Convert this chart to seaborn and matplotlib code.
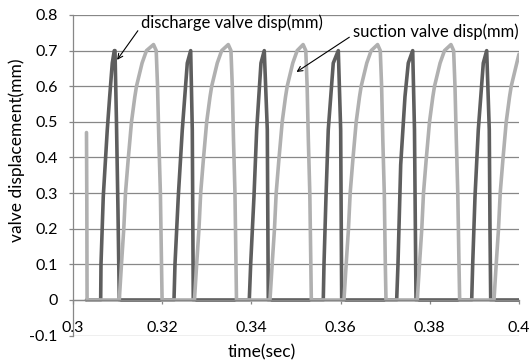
import matplotlib
matplotlib.use("Agg")
import matplotlib.pyplot as plt
import seaborn as sns

# discharge valve pulses (time in sec, displacement in mm)
dis_start_t = [0.30303]
dis_start_y = [0.0]
dis_pulses_t = [
    [0.30621, 0.30628, 0.30679, 0.30769, 0.30823, 0.30881, 0.30926, 0.30942, 0.30975, 0.31009, 0.31038],
    [0.32265, 0.32287, 0.32361, 0.32451, 0.32563, 0.32639, 0.32675, 0.32697],
    [0.33953, 0.33984, 0.34058, 0.34119, 0.34215, 0.34289, 0.34357, 0.34379],
    [0.35612, 0.35628, 0.35673, 0.35724, 0.35836, 0.35949, 0.36002, 0.36025],
    [0.37258, 0.37287, 0.37348, 0.37444, 0.37518, 0.37617, 0.37657, 0.37691],
    [0.38940, 0.38962, 0.39014, 0.39088, 0.39200, 0.39276, 0.39334, 0.39350, 0.39366],
]
dis_pulses_y = [
    [0, 0.10, 0.29, 0.478, 0.571, 0.665, 0.70, 0.70, 0.50, 0.25, 0],
    [0, 0.10, 0.29, 0.478, 0.665, 0.70, 0.478, 0],
    [0, 0.10, 0.29, 0.478, 0.665, 0.70, 0.478, 0],
    [0, 0.10, 0.29, 0.478, 0.665, 0.70, 0.478, 0],
    [0, 0.10, 0.38, 0.571, 0.665, 0.70, 0.478, 0],
    [0, 0.10, 0.29, 0.478, 0.665, 0.70, 0.478, 0.20, 0],
]
dis_end_t = [0.4]
dis_end_y = [0.0]

# suction valve pulses
suc_pulses_t = [
    [0.30303, 0.30310, 0.30316],
    [0.31038, 0.31087, 0.31139, 0.31177, 0.31235, 0.31312, 0.31386, 0.31424, 0.31549, 0.31648,
     0.31806, 0.31866, 0.31896, 0.31925, 0.31960, 0.31985, 0.31998],
    [0.32724, 0.32773, 0.32825, 0.32863, 0.32921, 0.32998, 0.33072, 0.33110, 0.33235, 0.33334,
     0.33482, 0.33542, 0.33572, 0.33599, 0.33632, 0.33655, 0.33666],
    [0.34417, 0.34466, 0.34518, 0.34556, 0.34614, 0.34691, 0.34765, 0.34803, 0.34928, 0.35027,
     0.35160, 0.35220, 0.35250, 0.35277, 0.35310, 0.35333, 0.35344],
    [0.36076, 0.36125, 0.36177, 0.36215, 0.36273, 0.36350, 0.36424, 0.36462, 0.36587, 0.36686,
     0.36830, 0.36890, 0.36920, 0.36947, 0.36980, 0.37003, 0.37018],
    [0.37720, 0.37769, 0.37821, 0.37859, 0.37917, 0.37994, 0.38068, 0.38106, 0.38231, 0.38330,
     0.38475, 0.38535, 0.38565, 0.38595, 0.38628, 0.38655, 0.38670],
    [0.39440, 0.39489, 0.39541, 0.39579, 0.39637, 0.39714, 0.39788, 0.39826, 0.39951, 0.40000],
]
suc_pulses_y = [
    [0.47, 0.28, 0],
    [0, 0.1, 0.2, 0.3, 0.39, 0.5, 0.57, 0.6, 0.665, 0.70, 0.717, 0.70, 0.6, 0.45, 0.3, 0.1, 0],
    [0, 0.1, 0.2, 0.3, 0.39, 0.5, 0.57, 0.6, 0.665, 0.70, 0.717, 0.70, 0.6, 0.45, 0.3, 0.1, 0],
    [0, 0.1, 0.2, 0.3, 0.39, 0.5, 0.57, 0.6, 0.665, 0.70, 0.717, 0.70, 0.6, 0.45, 0.3, 0.1, 0],
    [0, 0.1, 0.2, 0.3, 0.39, 0.5, 0.57, 0.6, 0.665, 0.70, 0.717, 0.70, 0.6, 0.45, 0.3, 0.1, 0],
    [0, 0.1, 0.2, 0.3, 0.39, 0.5, 0.57, 0.6, 0.665, 0.70, 0.717, 0.70, 0.6, 0.45, 0.3, 0.1, 0],
    [0, 0.1, 0.2, 0.3, 0.39, 0.5, 0.57, 0.6, 0.665, 0.69],
]

x_ticks = [0.3, 0.32, 0.34, 0.36, 0.38, 0.4]
x_tick_labels = ["0.3", "0.32", "0.34", "0.36", "0.38", "0.4"]
y_ticks = [-0.1, 0, 0.1, 0.2, 0.3, 0.4, 0.5, 0.6, 0.7, 0.8]
y_tick_labels = ["-0.1", "0", "0.1", "0.2", "0.3", "0.4", "0.5", "0.6", "0.7", "0.8"]

dis_t = dis_start_t + sum(dis_pulses_t, []) + dis_end_t
dis_y = dis_start_y + sum(dis_pulses_y, []) + dis_end_y
suc_t = sum(suc_pulses_t, [])
suc_y = sum(suc_pulses_y, [])

sns.set_style("white")
plt.rcParams["font.family"] = ["Lato", "DejaVu Sans"]

DARK = "#5e5e5e"
LIGHT = "#b0b0b0"
GRID = "#878787"

fig = plt.figure(figsize=(5.3, 3.64), dpi=100)
ax = fig.add_axes([0.1377, 0.078, 0.8415, 0.8808])

sns.lineplot(x=dis_t, y=dis_y, sort=False, estimator=None, color=DARK, lw=2.6, ax=ax)
sns.lineplot(x=suc_t, y=suc_y, sort=False, estimator=None, color=LIGHT, lw=2.6, ax=ax)

ax.set_xlim(0.3, 0.4)
ax.set_ylim(-0.1, 0.8)
ax.set_xticks(x_ticks)
ax.set_xticklabels(x_tick_labels)
ax.set_yticks(y_ticks)
ax.set_yticklabels(y_tick_labels)

ax.grid(axis="y", color=GRID, lw=0.9)
ax.set_axisbelow(True)
for side in ["top", "right"]:
    ax.spines[side].set_visible(False)
ax.spines["bottom"].set_position(("data", 0))
ax.spines["bottom"].set_color(GRID)
ax.spines["left"].set_color(GRID)
ax.spines["bottom"].set_linewidth(0.9)
ax.spines["left"].set_linewidth(0.9)

ax.tick_params(axis="x", bottom=True, direction="out", length=3, width=0.9,
               color=GRID, pad=12, labelsize=11.5, labelcolor="black")
ax.tick_params(axis="y", left=True, direction="out", length=3, width=0.9,
               color=GRID, pad=8, labelsize=11.5, labelcolor="black")

ax.set_xlabel("time(sec)", fontsize=12.5, color="black", va="center")
ax.xaxis.set_label_coords(0.424, -0.051)
ax.set_ylabel("valve displacement(mm)", fontsize=12.5, color="black", va="center")
ax.yaxis.set_label_coords(-0.1256, 0.579)

arrow = dict(arrowstyle="->", color="black", lw=0.8, shrinkA=0, shrinkB=0,
             relpos=(0.0, 0.3), mutation_scale=9)
ax.annotate("discharge valve disp(mm)", xy=(0.30989, 0.674), xytext=(0.31528, 0.778),
            ha="left", va="center", fontsize=12, color="black", arrowprops=arrow)
ax.annotate("suction valve disp(mm)", xy=(0.35011, 0.640), xytext=(0.36270, 0.753),
            ha="left", va="center", fontsize=12, color="black", arrowprops=arrow)

fig.savefig("out.png", dpi=100)
